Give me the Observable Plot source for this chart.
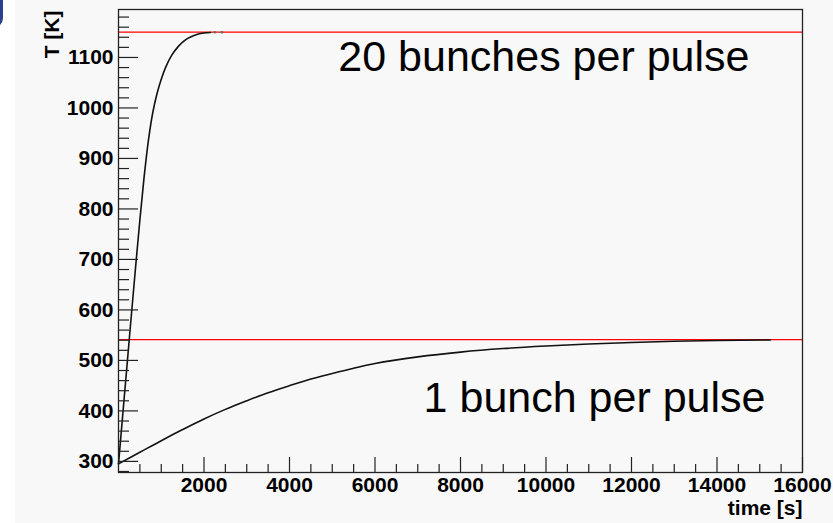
<!DOCTYPE html>
<html>
<head>
<meta charset="utf-8">
<script src="https://cdn.jsdelivr.net/npm/d3@7"></script>
<script src="https://cdn.jsdelivr.net/npm/@observablehq/plot@0.6"></script>
<style>
  html, body { margin: 0; padding: 0; background: #ffffff; }
  #page { position: relative; width: 833px; height: 523px; overflow: hidden; }
  #panel { position: absolute; left: 15px; top: 0; width: 818px; height: 523px; background: #f8f8f8; }
  #bracket { position: absolute; left: -17px; top: -20px; width: 14px; height: 42px;
             border: 3px solid #2f3f8f; border-radius: 10px; }
  #chart { position: absolute; left: 0; top: 0; }
</style>
</head>
<body>
<div id="page">
  <div id="panel"></div>
  <div id="bracket"></div>
  <div id="chart"></div>
</div>
<script>
// Temperature evolution for two beam settings
const hotTime = [0, 100, 200, 300, 400, 500, 600, 700, 800, 900, 1000, 1100, 1250, 1400, 1550, 1700, 1850, 2000, 2150];
const hotTemp = [295, 393, 491, 589, 685, 778, 864, 936, 990, 1028, 1057, 1080, 1105, 1122, 1134, 1141, 1146, 1148.5, 1149.5];
const hotDotsTime = [2250, 2420];
const hotDotsTemp = [1150, 1150];

const coolTime = [0, 500, 1000, 1500, 2000, 2500, 3000, 3500, 4000, 4500, 5000, 5500, 6000, 7000, 8000, 9000, 10000, 11000, 12000, 13000, 14000, 15250];
const coolTemp = [295, 318, 341, 363, 384, 403, 420, 436, 450, 463, 474, 484.5, 494, 507, 516.5, 523.5, 528.5, 532.5, 535.5, 537.8, 539.3, 540.5];

// Equilibrium temperatures
const equilibrium = [1150, 541];

// Annotations
const labelText = ["20 bunches per pulse", "1 bunch per pulse"];
const labelTime = [14760, 15134];
const labelTemp = [1100, 425];

// Axis ticks
const xLabels = [2000, 4000, 6000, 8000, 10000, 12000, 14000, 16000];
const yLabels = [300, 400, 500, 600, 700, 800, 900, 1000, 1100];
const xMinor = d3.range(500, 16000, 500).filter(v => v % 2000 !== 0);
const yMinor = d3.range(280, 1195, 20).filter(v => v % 100 !== 0);

const hot = hotTime.map((t, i) => ({t, T: hotTemp[i]}));
const hotDots = hotDotsTime.map((t, i) => ({t, T: hotDotsTemp[i]}));
const cool = coolTime.map((t, i) => ({t, T: coolTemp[i]}));
const labels = labelText.map((s, i) => ({s, t: labelTime[i], T: labelTemp[i]}));

const W = 833, H = 523;
const mL = 118, mR = 31, mT = 9, mB = 51;
const innerW = W - mL - mR, innerH = H - mT - mB;
const font = "'Liberation Sans', Arial, Helvetica, sans-serif";

const chart = Plot.plot({
  width: W,
  height: H,
  marginLeft: mL,
  marginRight: mR,
  marginTop: mT,
  marginBottom: mB,
  style: {background: "transparent", fontFamily: font, fontSize: "21px", color: "#000"},
  x: {domain: [0, 16000]},
  y: {domain: [278, 1195]},
  marks: [
    Plot.ruleY(equilibrium, {stroke: "#ff0000", strokeWidth: 1.3}),
    Plot.line(cool, {x: "t", y: "T", stroke: "#111", strokeWidth: 1.6, curve: "catmull-rom"}),
    Plot.line(hot, {x: "t", y: "T", stroke: "#111", strokeWidth: 1.6, curve: "catmull-rom"}),
    Plot.dot(hotDots, {x: "t", y: "T", r: 1.3, fill: "#666", stroke: null}),
    // inward-pointing ticks
    Plot.tickX(xLabels, {x: d => d, insetTop: innerH - 15, stroke: "#222", strokeWidth: 1.2}),
    Plot.tickX(xMinor, {x: d => d, insetTop: innerH - 8, stroke: "#222", strokeWidth: 1.2}),
    Plot.tickY(yLabels, {y: d => d, insetRight: innerW - 20, stroke: "#222", strokeWidth: 1.2}),
    Plot.tickY(yMinor, {y: d => d, insetRight: innerW - 11, stroke: "#222", strokeWidth: 1.2}),
    Plot.axisX({ticks: xLabels, tickSize: 0, tickPadding: 5, tickFormat: "d", label: null,
                fontWeight: "bold", fontSize: 21}),
    Plot.axisY({ticks: yLabels, tickSize: 0, tickPadding: 5, tickFormat: "d", label: null,
                fontWeight: "bold", fontSize: 21}),
    Plot.frame({stroke: "#222", strokeWidth: 1.3}),
    Plot.text(["time [s]"], {frameAnchor: "bottom-right", textAnchor: "end", lineAnchor: "top",
                             dy: 28, fontWeight: "bold", fontSize: 21}),
    Plot.text(["T [K]"], {frameAnchor: "top-left", rotate: -90, textAnchor: "end", lineAnchor: "middle",
                          dx: -66, dy: 1, fontWeight: "bold", fontSize: 21}),
    Plot.text(labels, {x: "t", y: "T", text: "s", textAnchor: "end", lineAnchor: "middle",
                       fontSize: 43, fontWeight: "normal", fill: "#000"})
  ]
});

document.getElementById("chart").appendChild(chart);
</script>
</body>
</html>
